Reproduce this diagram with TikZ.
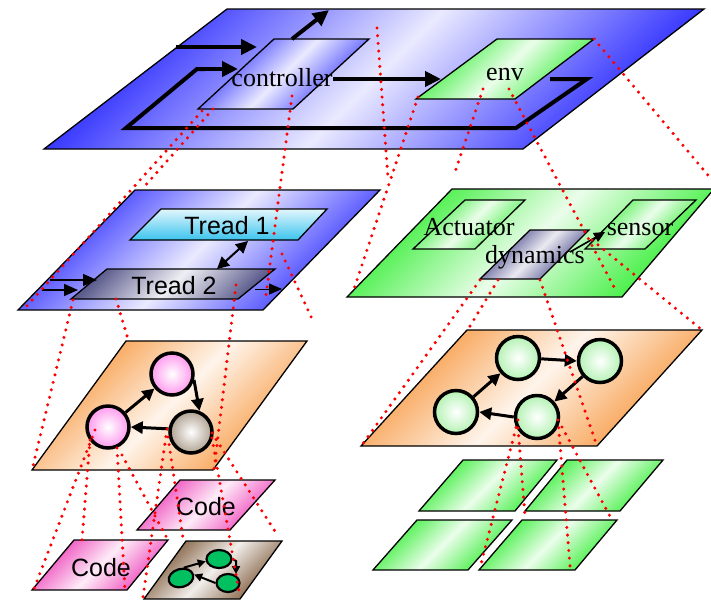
\documentclass[tikz,border=0pt]{standalone}
\usepackage{fontspec}
\setmainfont{Liberation Serif}
\setsansfont{Liberation Sans}
\usetikzlibrary{arrows.meta,shapes.geometric}
\definecolor{pblue}{HTML}{2A2AFF}
\definecolor{pgreen}{HTML}{33EE33}
\definecolor{porange}{HTML}{F7963C}
\definecolor{pmag}{HTML}{EE3FB8}
\definecolor{pbrown}{HTML}{7A5535}
\definecolor{pnavy}{HTML}{30307A}
\definecolor{pgreyb}{HTML}{5C5C8E}
\definecolor{tcyan}{HTML}{3CC4EE}
\definecolor{pinkc}{HTML}{FF99EE}
\definecolor{greyc}{HTML}{B0A292}
\definecolor{lgreen}{HTML}{B4F2B4}
\definecolor{egreen}{HTML}{00C060}
\begin{document}
\begin{tikzpicture}[x=1pt,y=-1pt,
  plane/.style={draw=black, line width=1.3pt, line join=miter,
    left color=#1, right color=#1, middle color=#1!10!white, shading angle=45},
  bigarrow/.style={line width=4pt, line join=miter, -{Triangle[length=16pt,width=15pt]}},
  tarrow/.style={line width=1.6pt, -{Triangle[length=14pt,width=12pt]}},
  carrow/.style={line width=3pt, -{Triangle[length=12pt,width=12pt]}},
  earrow/.style={line width=2pt, -{Triangle[length=8pt,width=8pt]}},
  pcirc/.style={circle, draw=black, line width=3.5pt, minimum size=42pt, inner sep=0pt, inner color=white},
  egg/.style={ellipse, draw=black, line width=2.2pt, fill=egreen, inner sep=0pt, minimum height=18pt},
  serif/.style={font=\rmfamily\fontsize{26}{30}\selectfont, anchor=base, inner sep=0pt},
  sans/.style={font=\sffamily\fontsize{25}{30}\selectfont, anchor=base, inner sep=0pt},
  reddot/.style={draw=red, line width=3.4pt, line cap=round, dash pattern=on 0pt off 7.7pt}
]
\useasboundingbox (0,0) rectangle (711,600);

% ---------- top plane ----------
\draw[plane=pblue] (227,9) -- (704,9) -- (523,149) -- (44,149) -- cycle;
\draw[bigarrow] (176,47) -- (257,47);
\draw[line width=4pt, line join=miter] (550,79) -- (587,79) -- (516,128) -- (126,128) -- (197,69) -- (205,69);
\draw[bigarrow] (200,69) -- (238,69);
\draw[plane=pblue] (274,39) -- (369,39) -- (293,109) -- (198,109) -- cycle;
\draw[plane=pgreen] (497,39) -- (594,39) -- (515,99) -- (416,99) -- cycle;
\draw[bigarrow] (292,39) -- (329,10);
\draw[bigarrow] (333,79) -- (441,79);
\node[serif] (ctl) at (282,86) {controller};
\node[serif] (env) at (505,80) {env};

% ---------- tread plane ----------
\draw[plane=pblue] (135,190) -- (380,190) -- (263,310) -- (18,310) -- cycle;
\draw[draw=black, line width=1.3pt, top color=white!85!tcyan, bottom color=tcyan]
  (161,209) -- (327,209) -- (298,240) -- (130,240) -- cycle;
\draw[plane=pgreyb] (107,269) -- (275,269) -- (238,299) -- (71,299) -- cycle;
\node[sans] (t1) at (227,234) {Tread 1};
\node[sans] (t2) at (174,294) {Tread 2};
\draw[line width=2pt, {Triangle[length=12pt,width=12pt]}-{Triangle[length=12pt,width=12pt]}] (217,269) -- (248,241);
\draw[tarrow] (50,280) -- (97,280);
\draw[tarrow] (42,290) -- (78,290);
\draw[line width=0.9pt, -{Triangle[length=13pt,width=11pt]}] (255,289) -- (282,289);

% ---------- green plane ----------
\draw[plane=pgreen] (452,189) -- (714,189) -- (622,297) -- (347,297) -- cycle;
\draw[plane=pgreen] (465,200) -- (525,200) -- (475,249) -- (413,249) -- cycle;
\draw[plane=pgreen] (633,200) -- (696,200) -- (645,249) -- (585,249) -- cycle;
\draw[plane=pnavy] (530,230) -- (589,230) -- (540,279) -- (480,279) -- cycle;
\draw[line width=1.6pt, -{Triangle[length=11pt,width=10pt]}] (570,252) -- (605,232);
\node[serif] (act) at (469,235) {Actuator};
\node[serif] (sen) at (640,235) {sensor};
\node[serif] (dyn) at (535,263) {dynamics};

% ---------- orange left ----------
\draw[plane=porange] (126,341) -- (307,341) -- (213,470) -- (32,470) -- cycle;
\node[pcirc, outer color=pinkc] (lt) at (172,374) {};
\node[pcirc, outer color=pinkc] (ll) at (108,427) {};
\node[pcirc, outer color=greyc] (lr) at (191,432) {};
\draw[carrow] (ll) -- (lt);
\draw[carrow] (lt.-15) -- (lr.68);
\draw[carrow] (lr.172) -- (ll.east);

% ---------- orange right ----------
\draw[plane=porange] (467,330) -- (702,330) -- (597,446) -- (361,446) -- cycle;
\node[pcirc, outer color=lgreen, minimum size=43pt] (c1) at (518,358) {};
\node[pcirc, outer color=lgreen, minimum size=43pt] (c2) at (600,361) {};
\node[pcirc, outer color=lgreen, minimum size=43pt] (c3) at (456,412) {};
\node[pcirc, outer color=lgreen, minimum size=43pt] (c4) at (537,417) {};
\draw[carrow] (c3) -- (c1);
\draw[carrow] (c1.-2) -- (c2.west);
\draw[carrow] (c2) -- (c4);
\draw[carrow] (c4.west) -- (c3.east);

% ---------- bottom left ----------
\draw[plane=pmag] (180,480) -- (275,480) -- (230,530) -- (137,530) -- cycle;
\draw[plane=pmag] (74,540) -- (168,540) -- (127,590) -- (32,590) -- cycle;
\draw[plane=pbrown] (186,541) -- (282,541) -- (240,599) -- (144,599) -- cycle;
\node[sans] (code1) at (206,515) {Code};
\node[sans] (code2) at (101,576) {Code};
\node[egg, minimum width=25pt] (e1) at (219,559) {};
\node[egg, minimum width=25pt, rotate=15] (e2) at (181,578) {};
\node[egg, minimum width=23pt] (e3) at (228,583) {};
\draw[earrow] (e1.east) -- (236,561) -- (236,574);
\draw[earrow] (e3.west) -- (e2.east);
\draw[earrow] (e2.60) -- (e1.190);

% ---------- bottom right ----------
\draw[plane=pgreen] (463,460) -- (557,460) -- (515,511) -- (419,511) -- cycle;
\draw[plane=pgreen] (567,460) -- (663,460) -- (620,511) -- (525,511) -- cycle;
\draw[plane=pgreen] (417,520) -- (512,520) -- (468,570) -- (373,570) -- cycle;
\draw[plane=pgreen] (522,520) -- (617,520) -- (575,570) -- (479,570) -- cycle;

% ---------- red dotted lines ----------
\draw[reddot] (213,109) -- (144,187);
\draw[reddot] (202,111) -- (25,308);
\draw[reddot] (292,96) -- (266,295);
\draw[reddot] (282,254) -- (313,321);
\draw[reddot] (377,28) -- (388,178);
\draw[reddot] (418,97) -- (353,292);
\draw[reddot] (483,89) -- (454,175);
\draw[reddot] (509,89) -- (614,287);
\draw[reddot] (594,39) -- (712,180);
\draw[reddot] (592,240) -- (702,330);
\draw[reddot] (480,280) -- (362,445);
\draw[reddot] (498,280) -- (467,331);
\draw[reddot] (540,280) -- (597,446);
\draw[reddot] (73,300) -- (32,470);
\draw[reddot] (116,299) -- (128,339);
\draw[reddot] (236,285) -- (214,470);
\draw[reddot] (518,420) -- (480,568);
\draw[reddot] (518,428) -- (525,516);
\draw[reddot] (558,420) -- (570,566);
\draw[reddot] (562,427) -- (612,520);
\draw[reddot] (95,430) -- (32,594);
\draw[reddot] (90,440) -- (82,540);
\draw[reddot] (117,448) -- (125,590);
\draw[reddot] (122,455) -- (168,540);
\draw[reddot] (167,429) -- (143,597);
\draw[reddot] (168,437) -- (183,538);
\draw[reddot] (212,433) -- (278,536);
\draw[reddot] (212,438) -- (240,597);
\end{tikzpicture}
\end{document}
